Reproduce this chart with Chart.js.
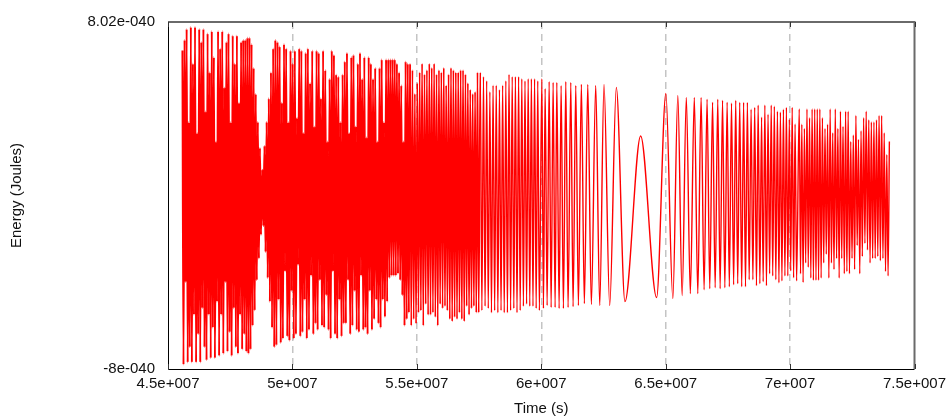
<!DOCTYPE html>
<html>
<head>
<meta charset="utf-8">
<title>Energy vs time</title>
<script src="https://cdn.jsdelivr.net/npm/chart.js@4.4.1/dist/chart.umd.min.js"></script>
<style>
  html, body { margin: 0; padding: 0; background: #fff; }
  #wrap { width: 952px; height: 418px; }
</style>
</head>
<body>
<div id="wrap"><canvas id="energyChart" width="952" height="418"></canvas></div>
<script>
// time in units of 1e6 s, energy in units of 1e-41 J

// evenly sampled stretches: [first, last] time, then alternating peaks / troughs
const spanA = [45.581, 48.737];
const peaksA = [67, 72, 77, 34, 78, 61, 78, 29, 77, 71, 77, 39, 75, 57, 76, 64, 25, 76, 68, 76,
  50, 71, 75, 34, 74, 61, 74, 43, 71, 72, 72, 73, 73, 70, 59, 47, 34, 22];
const troughsA = [-78, -40, -77, -70, -77, -55, -77, -64, -77, -52, -70, -76, -55, -75, -61, -75, -49, -74, -55, -73,
  -40, -72, -63, -74, -52, -70, -73, -55, -71, -64, -72, -73, -71, -60, -53, -39, -29, -18];

const spanB = [48.789, 54.679];
const peaksB = [12, 23, 34, 45, 57, 68, 72, 71, 69, 43, 70, 68, 34, 67, 61, 67, 36, 68, 67, 29,
  66, 68, 52, 67, 32, 67, 66, 45, 67, 58, 25, 54, 67, 65, 56, 55, 34, 56, 62, 66,
  29, 64, 65, 32, 61, 66, 54, 64, 27, 64, 61, 54, 59, 25, 59, 63, 34, 63, 63, 63,
  63, 63, 61, 57, 51, 25, 62, 61];
const troughsB = [-14, -26, -38, -49, -61, -70, -69, -48, -68, -66, -35, -65, -67, -44, -66, -64, -32, -65, -63, -48,
  -66, -62, -37, -64, -59, -62, -39, -60, -61, -46, -62, -66, -35, -64, -66, -48, -65, -59, -59, -39,
  -64, -60, -44, -62, -63, -37, -62, -61, -64, -44, -62, -57, -48, -59, -61, -48, -56, -49, -38, -37,
  -37, -37, -36, -39, -46, -60, -57, -54];

const spanC = [54.727, 57.486];
const peaksC = [61, 58, 47, 52, 57, 61, 56, 58, 61, 59, 61, 56, 58, 57, 59, 51, 56, 59, 58, 57,
  57, 58, 58, 56, 52, 49, 47, 48, 57];
const troughsC = [-60, -57, -59, -54, -53, -60, -50, -55, -55, -54, -56, -60, -50, -52, -51, -53, -57, -58, -56, -57,
  -54, -57, -58, -51, -55, -52, -51, -54, -54];

const spanD = [57.550, 59.924];
const peaksD = [57, 55, 53, 48, 51, 51, 49, 51, 53, 56, 55, 55, 55, 54, 53, 54, 54, 54, 53];
const troughsD = [-53, -51, -52, -54, -53, -54, -53, -54, -54, -53, -52, -54, -53, -51, -50, -51, -51, -52, -53];

// slow stretch, every turning point listed
const chirpTime = [60.024, 60.088, 60.156, 60.236, 60.317, 60.397, 60.477, 60.557, 60.625, 60.718,
  60.798, 60.890, 60.986, 61.078, 61.187, 61.279, 61.387, 61.492, 61.612, 61.732,
  61.869, 62.013, 62.189, 62.350, 62.522, 62.751, 63.016, 63.364, 63.994, 64.636,
  65.008, 65.289, 65.489, 65.662, 65.830, 65.991, 66.151, 66.291, 66.424, 66.544,
  66.664, 66.772, 66.884, 66.989, 67.093, 67.189, 67.285, 67.378, 67.470, 67.558,
  67.646, 67.731, 67.815, 67.895, 67.975, 68.055, 68.132, 68.208, 68.284, 68.356,
  68.433, 68.505, 68.577, 68.649, 68.717, 68.785, 68.854, 68.918, 68.986, 69.050,
  69.114, 69.178, 69.242, 69.302, 69.367, 69.427, 69.491, 69.551, 69.611, 69.672,
  69.732, 69.792, 69.852, 69.908, 69.969, 70.025, 70.085, 70.141, 70.201, 70.261];
const chirpEnergy = [54, -52, 49.5, -50.7, 52.7, -51.6, 52.3, -51.6, 52.3, -52.1,
  50.9, -52.1, 52.7, -51.6, 52.3, -51.2, 50.9, -50.7, 51.4, -49.8,
  51.4, -50.2, 50.9, -50.7, 51.4, -50.7, 50.0, -48.9, 27.6, -47.0,
  47.2, -47.5, 46.3, -46.1, 45.4, -45.2, 45.4, -45.2, 45.4, -43.4,
  44.5, -42.9, 43.1, -42.5, 44.5, -42.9, 44.0, -42.5, 43.1, -42.0,
  42.7, -41.1, 44.0, -40.6, 43.1, -42.0, 43.1, -42.0, 43.1, -38.8,
  39.9, -38.8, 40.8, -41.5, 41.8, -40.6, 36.3, -39.7, 41.8, -41.5,
  37.6, -36.0, 41.8, -37.0, 41.3, -38.8, 39.0, -40.2, 38.6, -39.3,
  39.9, -37.0, 40.8, -37.0, 35.3, -34.7, 40.8, -37.9, 33.1, -39.3];

const spanE = [70.368, 73.990];
const peaksE = [40, 33, 31, 40, 36, 40, 40, 40, 40, 36, 31, 33, 40, 29, 40, 31, 39, 32, 39, 39,
  25, 28, 37, 26, 30, 36, 39, 35, 34, 34, 35, 37, 37, 29, 19, 25];
const troughsE = [-36, -40, -31, -33, -38, -39, -39, -39, -38, -31, -27, -38, -31, -34, -29, -38, -29, -36, -35, -36,
  -29, -34, -23, -36, -28, -22, -25, -31, -29, -29, -28, -30, -29, -35, -37];

const timeTicks = [45e6, 50e6, 55e6, 60e6, 65e6, 70e6, 75e6];
const energyTicks = [-8e-40, 8.02e-40];

const FONT = "'Liberation Sans', Arial, sans-serif";
const TIME_UNIT = 1e6;
const ENERGY_UNIT = 1e-41;

// peaks and troughs alternate, spread evenly over the span
function sweep(span, peaks, troughs) {
  const n = peaks.length + troughs.length;
  const pts = [];
  for (let i = 0; i < n; i++) {
    const v = i % 2 === 0 ? peaks[i / 2] : troughs[(i - 1) / 2];
    const t = span[0] + (span[1] - span[0]) * i / (n - 1);
    pts.push({ x: t * TIME_UNIT, y: v * ENERGY_UNIT });
  }
  return pts;
}

const points = []
  .concat(sweep(spanA, peaksA, troughsA))
  .concat(sweep(spanB, peaksB, troughsB))
  .concat(sweep(spanC, peaksC, troughsC))
  .concat(sweep(spanD, peaksD, troughsD))
  .concat(chirpTime.map((t, i) => ({ x: t * TIME_UNIT, y: chirpEnergy[i] * ENERGY_UNIT })))
  .concat(sweep(spanE, peaksE, troughsE));

// the fast stretches are drawn a bit heavier so they fill in
function strokeFor(ctx) {
  const t = ctx.p0.parsed.x / TIME_UNIT;
  if (t < spanC[0]) return 2.0;
  if (t < spanD[0]) return 1.7;
  return 1.4;
}

// 4.5e+007 style labels
function sciLabel(v) {
  const parts = Number(v).toExponential().split("e");
  const sign = parts[1][0] === "-" ? "-" : "+";
  const digits = parts[1].replace(/[+-]/, "").padStart(3, "0");
  return parts[0] + "e" + sign + digits;
}

// box around the plot and short inward ticks on the time axis
const framePlugin = {
  id: "frame",
  afterDraw(chart) {
    const { ctx, chartArea: a, scales: { x } } = chart;
    ctx.save();
    ctx.strokeStyle = "#6a6a6a";
    ctx.lineWidth = 2;
    ctx.beginPath();
    ctx.moveTo(a.left, a.top);
    ctx.lineTo(a.right, a.top);
    ctx.lineTo(a.right, a.bottom);
    ctx.stroke();
    ctx.strokeStyle = "#000";
    ctx.lineWidth = 1;
    ctx.beginPath();
    ctx.moveTo(a.left + 0.5, a.top);
    ctx.lineTo(a.left + 0.5, a.bottom + 0.5);
    ctx.lineTo(a.right, a.bottom + 0.5);
    ctx.stroke();
    ctx.strokeStyle = "#333";
    timeTicks.forEach((t) => {
      const px = Math.round(x.getPixelForValue(t)) + 0.5;
      ctx.beginPath();
      ctx.moveTo(px, a.bottom);
      ctx.lineTo(px, a.bottom - 5);
      ctx.moveTo(px, a.top);
      ctx.lineTo(px, a.top + 5);
      ctx.stroke();
    });
    ctx.restore();
  },
};

new Chart(document.getElementById("energyChart").getContext("2d"), {
  type: "line",
  data: {
    datasets: [
      {
        data: points,
        borderColor: "#ff0000",
        borderWidth: 1.4,
        borderJoinStyle: "round",
        pointRadius: 0,
        cubicInterpolationMode: "monotone",
        fill: false,
        segment: { borderWidth: strokeFor },
      },
    ],
  },
  options: {
    responsive: false,
    devicePixelRatio: 1,
    animation: false,
    events: [],
    layout: { padding: { left: 8, right: 36, top: 19, bottom: 0 } },
    plugins: { legend: { display: false }, tooltip: { enabled: false } },
    scales: {
      x: {
        type: "linear",
        min: 45e6,
        max: 75e6,
        afterBuildTicks: (s) => { s.ticks = timeTicks.map((v) => ({ value: v })); },
        afterFit: (s) => { s.height = 49; },
        ticks: {
          callback: sciLabel,
          color: "#111",
          font: { family: FONT, size: 15 },
          padding: 6,
          maxRotation: 0,
          autoSkip: false,
        },
        grid: {
          color: (c) => (c.index === 0 || c.index === timeTicks.length - 1 ? "rgba(0,0,0,0)" : "#c4c4c4"),
          lineWidth: 1.5,
          drawTicks: false,
        },
        border: { display: false, dash: [7, 5] },
        title: {
          display: true,
          text: "Time (s)",
          color: "#111",
          font: { family: FONT, size: 15 },
          padding: { top: 0, bottom: 0 },
        },
      },
      y: {
        min: -8e-40,
        max: 8.02e-40,
        afterBuildTicks: (s) => { s.ticks = energyTicks.map((v) => ({ value: v })); },
        afterFit: (s) => { s.width = 160; },
        ticks: {
          callback: sciLabel,
          color: "#111",
          font: { family: FONT, size: 15 },
          padding: 13,
        },
        grid: { display: false, drawTicks: false },
        border: { display: false },
        title: {
          display: true,
          text: "Energy (Joules)",
          color: "#111",
          font: { family: FONT, size: 15 },
          padding: { top: 0, bottom: 0 },
        },
      },
    },
  },
  plugins: [framePlugin],
});
</script>
</body>
</html>
